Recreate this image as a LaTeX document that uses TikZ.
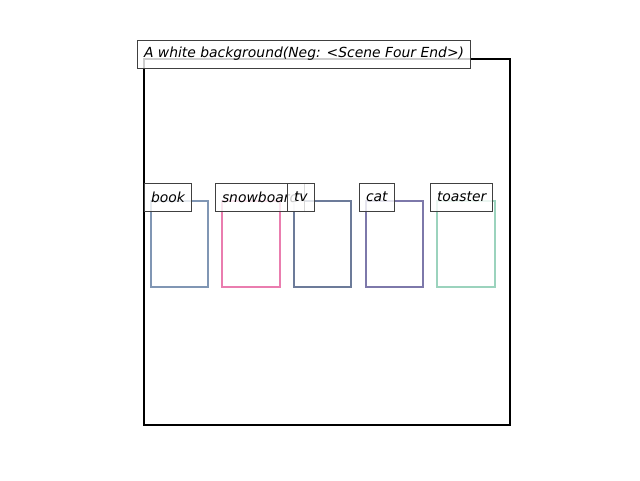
\documentclass[tikz,border=0pt]{standalone}
\usepackage{fontspec}
\setmainfont{DejaVu Sans}
\begin{document}
\begin{tikzpicture}[x=1pt,y=-1pt,
  objbox/.style={line width=2pt},
  lbl/.style={draw=black!75,fill=white,fill opacity=0.8,text opacity=1,line width=1pt,
    anchor=west,minimum height=28pt,inner xsep=6.5pt,inner ysep=0pt,
    font=\fontsize{13.9}{16}\selectfont\itshape}]
\useasboundingbox (0,0) rectangle (640,480);
\definecolor{cbook}{RGB}{128,150,180}
\definecolor{csnow}{RGB}{234,125,175}
\definecolor{ctv}{RGB}{108,123,153}
\definecolor{ccat}{RGB}{125,120,170}
\definecolor{ctoast}{RGB}{155,211,189}
\draw[line width=2pt] (144,59) rectangle (510,425);
\node[lbl] (title) at (137,54) {A white background(Neg: <Scene Four End>)};
\draw[objbox,cbook] (151,201) rectangle (208,287);
\draw[objbox,csnow] (222,201) rectangle (280,287);
\draw[objbox,ctv] (294,201) rectangle (351,287);
\draw[objbox,ccat] (366,201) rectangle (423,287);
\draw[objbox,ctoast] (437,201) rectangle (495,287);
\node[lbl] (book) at (144,197) {book};
\node[lbl] (snow) at (215,197) {snowboard};
\node[lbl] (tv) at (287,197) {tv};
\node[lbl] (cat) at (359,197) {cat};
\node[lbl] (toaster) at (430,197) {toaster};
\end{tikzpicture}
\end{document}
